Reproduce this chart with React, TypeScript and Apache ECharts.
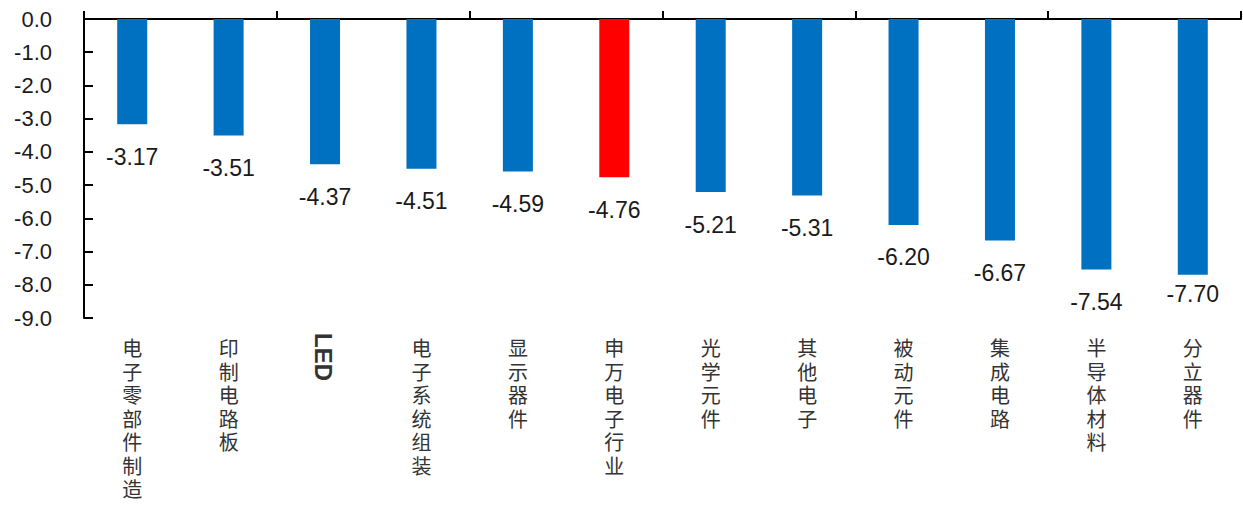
import React, { useEffect, useRef } from "react";
import * as echarts from "echarts";

const categories = [
  "电子零部件制造",
  "印制电路板",
  "LED",
  "电子系统组装",
  "显示器件",
  "申万电子行业",
  "光学元件",
  "其他电子",
  "被动元件",
  "集成电路",
  "半导体材料",
  "分立器件",
];
const values = [-3.17, -3.51, -4.37, -4.51, -4.59, -4.76, -5.21, -5.31, -6.2, -6.67, -7.54, -7.7];
const highlightCategory = "申万电子行业";
const rotatedCategory = "LED";
const yMin = -9;
const yMax = 0;
const yInterval = 1;

export default function App() {
  const ref = useRef<HTMLDivElement>(null);
  useEffect(() => {
    document.body.style.margin = "0";
    const chart = echarts.init(ref.current!, undefined, { renderer: "svg" });
    const latin = "'Liberation Sans', Arial, sans-serif";
    const cjk = "'Noto Sans CJK SC', sans-serif";
    const data = values.map((v, i) => {
      const item: any = {
        value: v,
        itemStyle: { color: categories[i] === highlightCategory ? "#FF0000" : "#0070C0" },
      };
      if (i === values.length - 1) item.label = { distance: 8 };
      return item;
    });
    chart.setOption({
      animation: false,
      backgroundColor: "#ffffff",
      grid: { left: 84, right: 2, top: 19, bottom: 189, containLabel: false },
      xAxis: [
        {
          type: "category",
          data: categories,
          position: "top",
          axisLine: { show: true, onZero: true, lineStyle: { color: "#000", width: 2 } },
          axisTick: { show: true, inside: false, length: 8, lineStyle: { color: "#000", width: 2 } },
          axisLabel: { show: false },
          splitLine: { show: false },
        },
        {
          type: "category",
          data: categories,
          position: "bottom",
          axisLine: { show: false, onZero: false },
          axisTick: { show: false },
          axisLabel: {
            show: true,
            interval: 0,
            margin: 18,
            fontSize: 20,
            lineHeight: 23.5,
            color: "#333333",
            fontFamily: cjk,
            formatter: (v: string) => (v === rotatedCategory ? "" : v.split("").join("\n")),
          },
          splitLine: { show: false },
        },
      ],
      yAxis: {
        type: "value",
        min: yMin,
        max: yMax,
        interval: yInterval,
        axisLine: { show: true, lineStyle: { color: "#000", width: 2 } },
        axisTick: { show: true, inside: true, length: 9, lineStyle: { color: "#000", width: 2 } },
        axisLabel: {
          margin: 32,
          fontSize: 22,
          color: "#1a1a1a",
          fontFamily: latin,
          formatter: (v: number) => v.toFixed(1),
        },
        splitLine: { show: false },
      },
      series: [
        {
          type: "bar",
          xAxisIndex: 0,
          data,
          barWidth: 30,
          label: {
            show: true,
            position: "bottom",
            distance: 21,
            fontSize: 23,
            color: "#1a1a1a",
            fontFamily: latin,
            formatter: (p: any) => Number(p.value).toFixed(2),
          },
        },
      ],
    });
    const idx = categories.indexOf(rotatedCategory);
    const px = chart.convertToPixel({ xAxisIndex: 0 }, idx) as number;
    const bottomY = chart.convertToPixel({ yAxisIndex: 0 }, yMin) as number;
    chart.setOption({
      graphic: [
        {
          type: "text",
          x: px - 2,
          y: bottomY + 39,
          rotation: -Math.PI / 2,
          style: {
            text: rotatedCategory,
            fontSize: 24,
            fontWeight: "bold",
            fontFamily: latin,
            fill: "#333333",
            align: "center",
            verticalAlign: "middle",
          },
        },
      ],
    });
    return () => chart.dispose();
  }, []);
  return <div ref={ref} style={{ position: "fixed", left: 0, top: 0, width: 1243, height: 507 }} />;
}
